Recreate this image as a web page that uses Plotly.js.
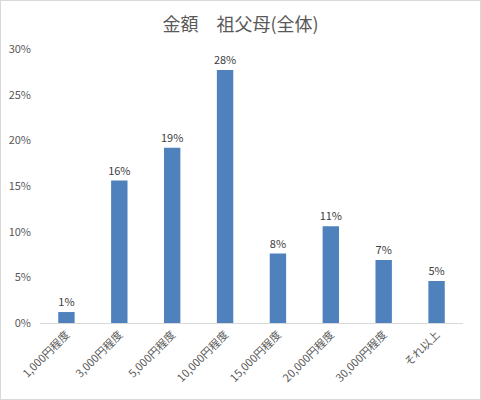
<!DOCTYPE html>
<html>
<head>
<meta charset="utf-8">
<script src="https://cdn.plot.ly/plotly-3.0.1.min.js"></script>
<style>
  body { margin: 0; background: #ffffff; }
  #chart { width: 479px; height: 398px; border: 1px solid #d9d9d9; }
</style>
</head>
<body>
<div id="chart"></div>
<script>
const categories = [
  "1,000円程度", "3,000円程度", "5,000円程度", "10,000円程度",
  "15,000円程度", "20,000円程度", "30,000円程度", "それ以上",
];
const shares = [0.012, 0.156, 0.192, 0.277, 0.076, 0.106, 0.069, 0.046];
const yTicks = [0, 0.05, 0.1, 0.15, 0.2, 0.25, 0.3];

const fontFamily = "'Noto Sans CJK JP', 'Noto Sans', sans-serif";

const traces = [
  {
    type: "bar",
    x: categories,
    y: shares,
    marker: { color: "#4f81bd" },
    texttemplate: "%{y:.0%}",
    textposition: "outside",
    constraintext: "none",
    outsidetextfont: { family: fontFamily, size: 11, color: "#404040" },
    cliponaxis: false,
    hoverinfo: "skip",
  },
];

const layout = {
  width: 479,
  height: 398,
  margin: { l: 39, r: 17, t: 48, b: 76 },
  paper_bgcolor: "#ffffff",
  plot_bgcolor: "#ffffff",
  bargap: 0.69,
  showlegend: false,
  font: { family: fontFamily, color: "#595959", size: 11 },
  title: {
    text: "金額　祖父母(全体)",
    font: { family: fontFamily, size: 18, color: "#595959" },
    x: 0.5,
    xanchor: "center",
    y: 0.94,
    yanchor: "middle",
  },
  xaxis: {
    type: "category",
    tickangle: -45,
    showgrid: false,
    showline: true,
    linecolor: "#d9d9d9",
    linewidth: 1,
    ticks: "",
    tickfont: { family: fontFamily, size: 11, color: "#595959" },
  },
  yaxis: {
    range: [0, 0.3],
    tickvals: yTicks,
    tickformat: ".0%",
    showgrid: false,
    zeroline: false,
    showline: false,
    ticks: "",
    ticklabelstandoff: 8,
    tickfont: { family: fontFamily, size: 11, color: "#595959" },
  },
};

Plotly.newPlot("chart", traces, layout, { displayModeBar: false, staticPlot: true });
</script>
</body>
</html>
